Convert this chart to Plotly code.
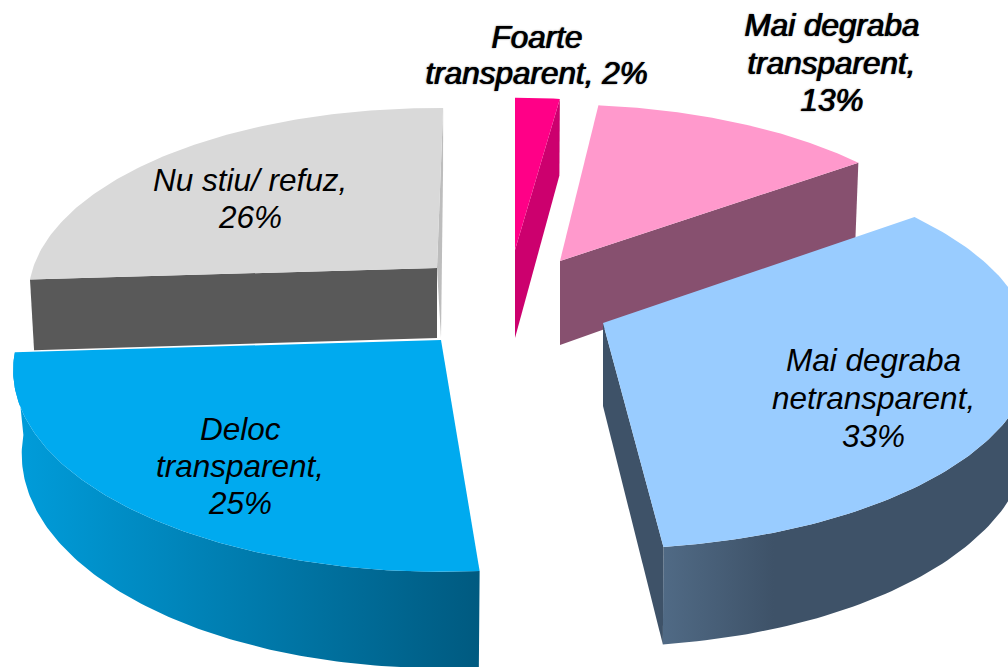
import numpy as np
import plotly.graph_objects as go

# ---- data ----
categories = ["Foarte transparent", "Mai degraba transparent", "Mai degraba netransparent",
              "Deloc transparent", "Nu stiu/ refuz"]
values = [2, 13, 33, 25, 26]
label_lines = [["Foarte", "transparent, 2%"],
               ["Mai degraba", "transparent,", "13%"],
               ["Mai degraba", "netransparent,", "33%"],
               ["Deloc", "transparent,", "25%"],
               ["Nu stiu/ refuz,", "26%"]]

# ---- styling / projection of the exploded, tilted pie ----
W, H = 1008, 667
K = 0.15                     # perspective strength
apex = [(515, 250), (560, 261), (603, 323), (441, 340), (437, 268)]
half_w = [407, 404, 425, 423, 404]
half_h = [175, 180, 192, 197, 184]
depth = [88, 84, 83, 82, 70]
spin = [0, -1, -1.5, 1, 1]
shrink = [0.99, 0.99, 0.99, 0.98, 0.99]
strip_extra = [0, 0, 0, 0, 4]
top_col = ["#ff0087", "#ff99cc", "#99ccff", "#00aaef", "#d9d9d9"]
end_wall = ["#cc006e", "#87506f", "#3e5268", None, "#bdbdbd"]
start_wall = [None, None, None, None, "#595959"]
outer_grad = [None, None,
              [[0, "#506a85"], [0.3, "#3e5268"], [1, "#3e5268"]],
              [[0, "#009ddb"], [1, "#005a80"]],
              None]
draw_order = [4, 0, 1, 2, 3]
label_x = [536, 831, 873, 240, 250]
label_y = [[37, 73], [25, 63, 100], [360, 398, 436], [429, 466, 503], [180, 217]]
label_bold = [True, True, False, False, False]

total = sum(values)
edges = np.cumsum([0] + values) / total * 360.0


def project(i, deg):
    t = np.radians(deg)
    fwd = -np.cos(t)
    s = 1 / (1 - K * fwd)
    x = apex[i][0] + half_w[i] * np.sin(t) * s
    y = apex[i][1] + half_h[i] * fwd * s
    return x, y, s


def lower(i, x, y, s):
    return apex[i][0] + (x - apex[i][0]) * shrink[i], y + depth[i] * s


fig = go.Figure()


def add_poly(xs, ys, color=None, grad=None):
    kw = dict(fillcolor=color) if grad is None else dict(fillgradient=grad)
    fig.add_trace(go.Scatter(x=list(xs), y=list(ys), mode="lines", fill="toself",
                             line=dict(width=0), hoverinfo="skip", showlegend=False, **kw))


for i in draw_order:
    a0, a1 = edges[i] + spin[i], edges[i + 1] + spin[i]
    ang = np.linspace(a0, a1, 120)
    x, y, s = project(i, ang)
    lx, ly = lower(i, x, y, s)
    ax, ay = apex[i]
    apx_low = ay + depth[i]
    # outer curved wall, only the part that faces the viewer
    if outer_grad[i] is not None:
        m = np.cos(np.radians(ang)) < 0.05
        add_poly(np.r_[x[m], lx[m][::-1]], np.r_[y[m], ly[m][::-1]],
                 grad=dict(type="horizontal", colorscale=outer_grad[i],
                           start=float(min(x[m].min(), lx[m].min())),
                           stop=float(max(x[m].max(), lx[m].max()))))
    # radial walls
    if start_wall[i]:
        add_poly([x[0], ax, ax, lx[0]], [y[0], ay, apx_low, ly[0]], color=start_wall[i])
    if end_wall[i]:
        add_poly([x[-1], ax, ax + strip_extra[i], lx[-1]], [y[-1], ay, apx_low, ly[-1]], color=end_wall[i])
    # top face
    add_poly(np.r_[ax, x, ax], np.r_[ay, y, ay], color=top_col[i])

annotations = []
for i, lines in enumerate(label_lines):
    for txt, ly in zip(lines, label_y[i]):
        font = dict(family="Liberation Sans, Arial, sans-serif", size=31.5, color="#000000", style="italic")
        if label_bold[i]:
            font["shadow"] = "1px 0 0 #000, 0 0 2px #777"
        annotations.append(dict(x=label_x[i], y=ly, text=txt, showarrow=False,
                                xanchor="center", yanchor="middle", font=font))

fig.update_layout(
    width=W, height=H, autosize=False,
    margin=dict(l=0, r=0, t=0, b=0),
    paper_bgcolor="#ffffff", plot_bgcolor="#ffffff",
    showlegend=False, annotations=annotations,
    xaxis=dict(range=[0, W], visible=False, fixedrange=True),
    yaxis=dict(range=[H, 0], visible=False, fixedrange=True),
)
fig.write_html("out.html", config=dict(displayModeBar=False),
               post_script="document.body.style.margin='0';document.documentElement.style.overflow='hidden';")
